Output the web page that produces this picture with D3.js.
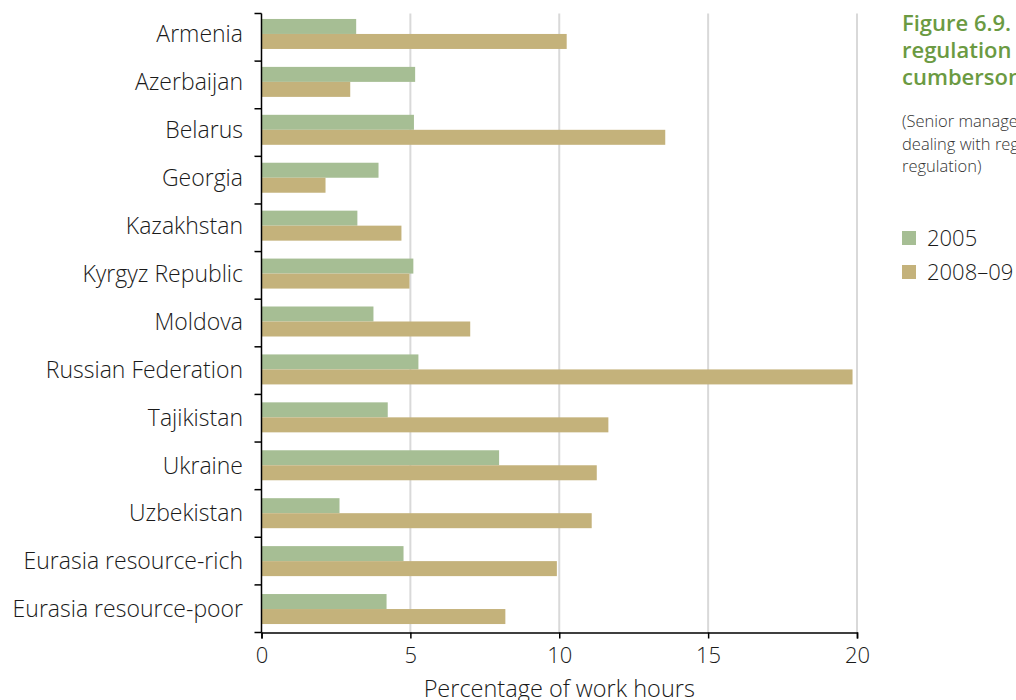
<!DOCTYPE html>
<html>
<head>
<meta charset="utf-8">
<script src="https://cdn.jsdelivr.net/npm/d3@7"></script>
<style>
  body { margin: 0; background: #fff; }
  svg { display: block; font-family: "Open Sans", "Noto Sans", sans-serif; }
</style>
</head>
<body>
<svg id="chart" width="1016" height="700"></svg>
<script>
const categories = ["Armenia", "Azerbaijan", "Belarus", "Georgia", "Kazakhstan", "Kyrgyz Republic", "Moldova", "Russian Federation", "Tajikistan", "Ukraine", "Uzbekistan", "Eurasia resource-rich", "Eurasia resource-poor"];
const series2005 = [3.18, 5.16, 5.12, 3.93, 3.22, 5.10, 3.76, 5.27, 4.24, 7.98, 2.62, 4.77, 4.20];
const series2008 = [10.25, 2.98, 13.56, 2.15, 4.70, 4.97, 7.01, 19.85, 11.65, 11.26, 11.09, 9.92, 8.19];
const seriesNames = ["2005", "2008\u201309"];
const xTicks = [0, 5, 10, 15, 20];
const titleLines = ["Figure 6.9.", "regulation", "cumbersome"];
const subtitleLines = ["(Senior management time spent", "dealing with regulation", "regulation)"];
const xTitle = "Percentage of work hours";

const colors = ["#a6be94", "#c4b27b"];
const svg = d3.select("#chart");
const mLeft = 261.5, mRight = 857, mTop = 13.5, mBottom = 632.5;

const x = d3.scaleLinear().domain([0, 20]).range([mLeft, mRight]);
const y = d3.scaleBand().domain(categories).range([10, 633]).paddingInner(0.374).paddingOuter(0.187);
const ySub = d3.scaleBand().domain([0, 1]).range([0, y.bandwidth()]);

// gridlines
svg.append("g").selectAll("line").data(xTicks.filter(d => d > 0)).join("line")
  .attr("x1", d => x(d)).attr("x2", d => x(d))
  .attr("y1", mTop).attr("y2", mBottom)
  .attr("stroke", "#d9d9d9").attr("stroke-width", 2);

// bars
const data = categories.map((c, i) => ({ c, vals: [series2005[i], series2008[i]] }));
const groups = svg.append("g").selectAll("g").data(data).join("g")
  .attr("transform", d => `translate(0,${y(d.c)})`);
groups.selectAll("rect").data(d => d.vals.map((v, k) => ({ v, k }))).join("rect")
  .attr("x", x(0)).attr("y", d => ySub(d.k))
  .attr("width", d => x(d.v) - x(0)).attr("height", ySub.bandwidth())
  .attr("fill", d => colors[d.k]);

// y axis: line with ticks at band boundaries
const yAxis = svg.append("g");
yAxis.append("line").attr("x1", mLeft).attr("x2", mLeft).attr("y1", mTop).attr("y2", mBottom)
  .attr("stroke", "#000").attr("stroke-width", 1.5);
const bnds = d3.range(categories.length + 1).map(i => mTop + i * (mBottom - mTop) / categories.length);
yAxis.selectAll("line.tick").data(bnds).join("line").attr("class", "tick")
  .attr("x1", mLeft - 7).attr("x2", mLeft).attr("y1", d => d).attr("y2", d => d)
  .attr("stroke", "#000").attr("stroke-width", 1.5);
yAxis.selectAll("text").data(categories).join("text")
  .attr("x", 243).attr("y", d => y(d) + y.bandwidth() / 2)
  .attr("dy", "0.36em").attr("text-anchor", "end")
  .attr("font-size", 23).attr("font-weight", 300).attr("fill", "#1a1a1a")
  .text(d => d);

// x axis
const xAxis = svg.append("g").attr("transform", `translate(0,${mBottom})`)
  .call(d3.axisBottom(x).tickValues(xTicks).tickSize(6).tickPadding(9).tickFormat(d3.format("d")));
xAxis.select(".domain").attr("stroke", "#000").attr("stroke-width", 1.5);
xAxis.selectAll(".tick line").attr("stroke", "#000").attr("stroke-width", 1.5);
xAxis.selectAll("text").attr("font-size", 22).attr("font-weight", 300).attr("fill", "#1a1a1a")
  .attr("font-family", "'Open Sans', 'Noto Sans', sans-serif");

svg.append("text").attr("x", (mLeft + mRight) / 2).attr("y", 697)
  .attr("text-anchor", "middle").attr("font-size", 23.5).attr("font-weight", 300).attr("fill", "#1a1a1a")
  .text(xTitle);

// title
svg.append("g").selectAll("text").data(titleLines).join("text")
  .attr("x", 902).attr("y", (d, i) => 31 + i * 27)
  .attr("font-size", 22).attr("font-weight", 600).attr("fill", "#6b9a42")
  .text(d => d);
svg.append("g").selectAll("text").data(subtitleLines).join("text")
  .attr("x", 902).attr("y", (d, i) => 127 + i * 22.5)
  .attr("font-size", 16.5).attr("font-weight", 300).attr("fill", "#333")
  .text(d => d);

// legend
const leg = svg.append("g").selectAll("g").data(seriesNames).join("g")
  .attr("transform", (d, i) => `translate(902,${231 + i * 34})`);
leg.append("rect").attr("width", 14).attr("height", 14).attr("fill", (d, i) => colors[i]);
leg.append("text").attr("x", 25).attr("y", 7).attr("dy", "0.36em")
  .attr("font-size", 22).attr("font-weight", 300).attr("fill", "#1a1a1a").text(d => d);
</script>
</body>
</html>
